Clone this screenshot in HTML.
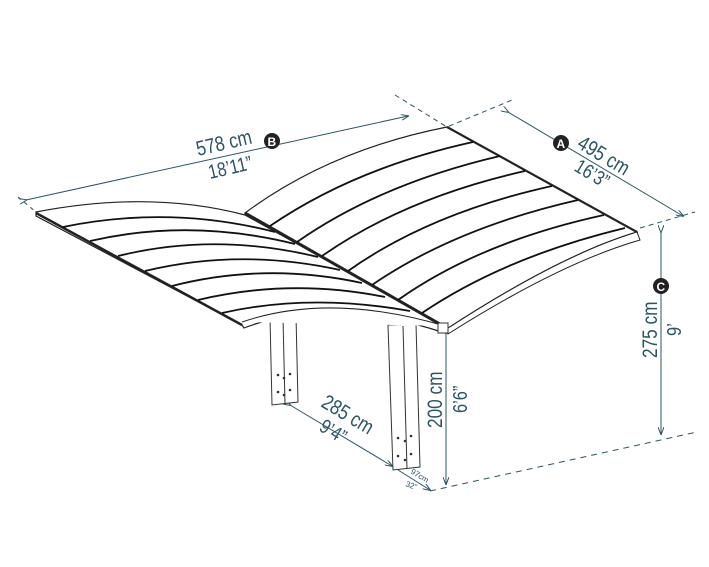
<!DOCTYPE html>
<html><head><meta charset="utf-8"><style>
html,body{margin:0;padding:0;background:#fff;width:709px;height:567px;overflow:hidden}
text{font-family:"Liberation Sans",sans-serif;fill:#2c5566}
</style></head><body>
<svg width="709" height="567" viewBox="0 0 709 567" xmlns="http://www.w3.org/2000/svg">
<defs>
<marker id="ar" markerWidth="8" markerHeight="6" refX="7" refY="3" orient="auto" markerUnits="userSpaceOnUse"><path d="M0,0 L8,3 L0,6" fill="none" stroke="#2c5566" stroke-width="1"/></marker>
</defs>
<g stroke="#2c5566" stroke-width="1" fill="none">
<path d="M395,95 L447,127 L512,100" stroke-dasharray="5,4"/>
<path d="M18,197 L36,212" stroke-dasharray="4,4"/>
<path d="M640,228 L695,212" stroke-dasharray="5,4"/>
<path d="M430,491 L697,432" stroke-dasharray="6,5"/>
<line x1="26" y1="200" x2="408" y2="116" marker-start="url(#ar)" marker-end="url(#ar)"/>
<line x1="508" y1="112" x2="683" y2="216" marker-start="url(#ar)" marker-end="url(#ar)"/>
<line x1="661" y1="232" x2="661" y2="434" marker-start="url(#ar)" marker-end="url(#ar)"/>
<line x1="446" y1="331" x2="446" y2="484" marker-end="url(#ar)"/>
<line x1="290" y1="405" x2="392" y2="466" marker-start="url(#ar)" marker-end="url(#ar)"/>
<line x1="398" y1="470" x2="430" y2="490" marker-end="url(#ar)"/>
</g>
<g stroke="#333" stroke-width="1" fill="#fff">
<path d="M270,318 L272,405 L298,402 L296,316 Z"/>
<line x1="283" y1="318" x2="285" y2="404"/>
<path d="M388,325 L393,470 L420,467 L416,324 Z"/>
<line x1="403" y1="326" x2="407" y2="469"/>
</g>
<g fill="#333">
<circle cx="278" cy="375" r="1.3"/><circle cx="290" cy="374" r="1.3"/><circle cx="284" cy="378" r="1.3"/><circle cx="278" cy="392" r="1.3"/><circle cx="290" cy="390" r="1.3"/><circle cx="284" cy="395" r="1.3"/>
<circle cx="398" cy="438" r="1.3"/><circle cx="411" cy="436" r="1.3"/><circle cx="405" cy="441" r="1.3"/><circle cx="398" cy="456" r="1.3"/><circle cx="411" cy="454" r="1.3"/><circle cx="405" cy="460" r="1.3"/>
</g>
<g stroke="#222" fill="#fff">
<path d="M36,212 Q150,190 245,215 L445,326 L445,333 Q330,295 244,328 L242,325 L36,216 Z" stroke-width="1.2"/>
<path d="M242,322 Q330,292 445,326" stroke-width="1"/>
<line x1="36" y1="213" x2="242" y2="325" stroke-width="2.5"/>
</g>
<g stroke="#111" stroke-width="1.8" fill="none">
<path d="M63,227 Q170,205 275,232"/>
<path d="M90,241 Q190,218 295,244"/>
<path d="M118,256 Q215,232 318,257"/>
<path d="M145,271 Q240,248 340,270"/>
<path d="M172,286 Q265,262 362,283"/>
<path d="M198,300 Q290,278 385,297"/>
<path d="M222,313 Q310,293 410,311"/>
</g>
<g stroke="#222" fill="#fff">
<path d="M245,213 Q330,150 447,127 L637,232 Q560,255 445,330 L445,326 Z" stroke-width="1.2"/>
<path d="M637,232 L640,240 Q560,263 448,334 L445,330" stroke-width="1"/>
<line x1="447" y1="127" x2="637" y2="232" stroke-width="2.2"/>
<line x1="245" y1="213" x2="445" y2="327" stroke-width="3"/>
</g>
<g stroke="#111" stroke-width="1.8" fill="none">
<path d="M270,226 Q355,168 473,142"/>
<path d="M297,242 Q380,184 500,156"/>
<path d="M322,256 Q405,198 525,171"/>
<path d="M348,271 Q430,213 552,186"/>
<path d="M372,285 Q455,228 578,200"/>
<path d="M398,300 Q480,242 604,215"/>
<path d="M422,313 Q505,257 625,228"/>
</g>
<rect x="438" y="323" width="10" height="10" fill="#fff" stroke="#333"/>
<text transform="translate(198,156) rotate(-13) scale(0.82,1)" font-size="21">578 cm</text>
<circle cx="272" cy="141" r="8" fill="#222"/><text x="267.5" y="146" font-size="12" font-weight="bold" style="fill:#fff">B</text>
<text transform="translate(210,179) rotate(-13) scale(0.82,1)" font-size="20">18’11”</text>
<circle cx="561" cy="143" r="8" fill="#222"/><text x="556.5" y="148" font-size="12" font-weight="bold" style="fill:#fff">A</text>
<text transform="translate(576,147) rotate(31) scale(0.82,1)" font-size="21">495 cm</text>
<text transform="translate(573,170) rotate(31) scale(0.82,1)" font-size="20">16’3”</text>
<circle cx="661" cy="286" r="8" fill="#222"/><text x="656.5" y="291" font-size="12" font-weight="bold" style="fill:#fff">C</text>
<text transform="translate(657,358) rotate(-90) scale(0.82,1)" font-size="21">275 cm</text>
<text transform="translate(681,336) rotate(-90) scale(0.82,1)" font-size="20">9’</text>
<text transform="translate(442,428) rotate(-90) scale(0.82,1)" font-size="21">200 cm</text>
<text transform="translate(467,413) rotate(-90) scale(0.82,1)" font-size="20">6’6”</text>
<text transform="translate(320,406) rotate(31) scale(0.82,1)" font-size="21">285 cm</text>
<text transform="translate(318,430) rotate(31) scale(0.82,1)" font-size="20">9’4”</text>
<text transform="translate(410,473) rotate(31)" font-size="8">97cm</text>
<text transform="translate(405,486) rotate(20)" font-size="8">32”</text>
</svg>
</body></html>
